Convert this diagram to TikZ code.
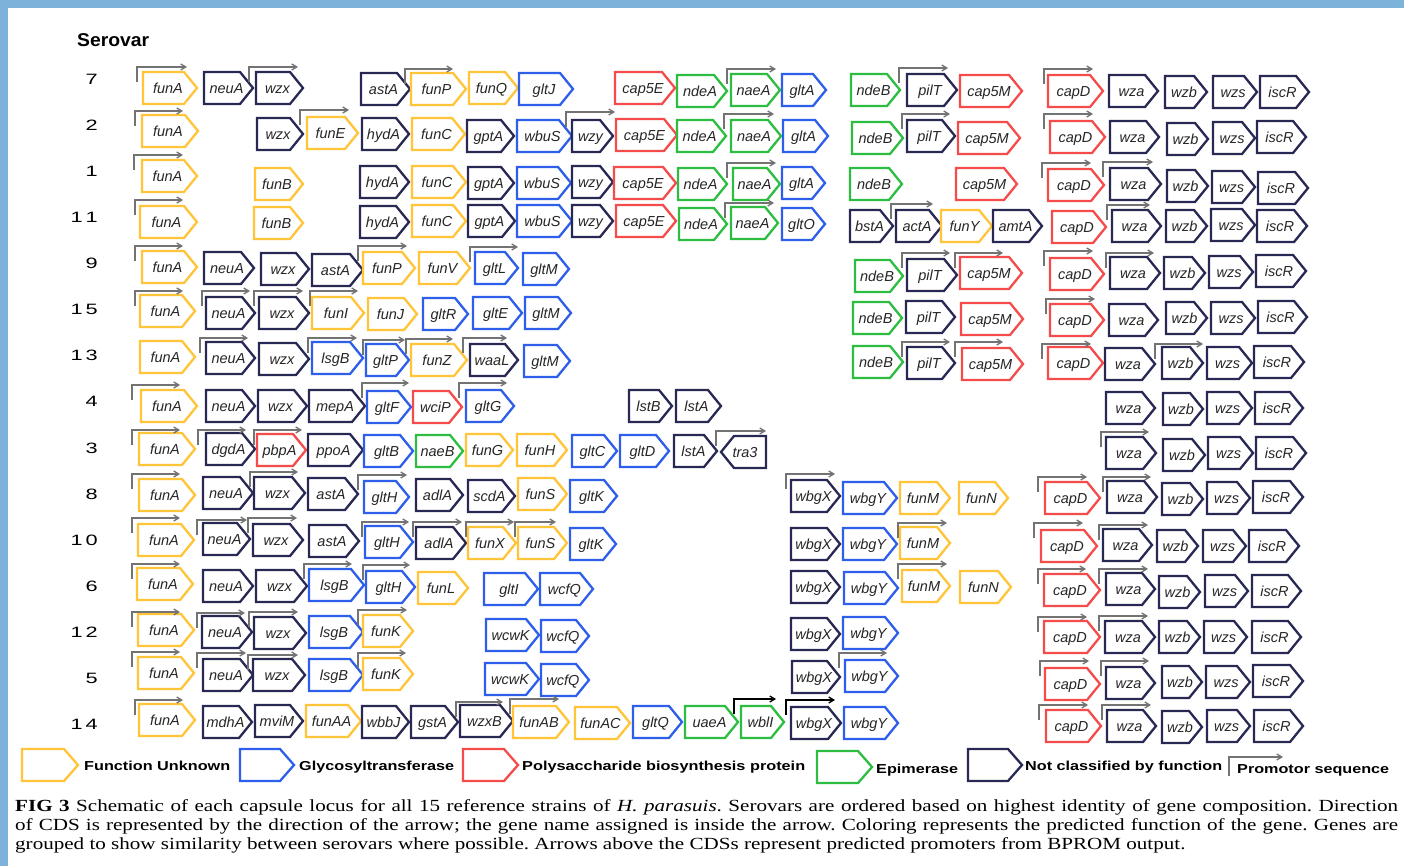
\documentclass[tikz,border=0pt]{standalone}
\usepackage{fontspec}
\setmainfont{Liberation Serif}[FakeStretch=1.24]
\setsansfont{Liberation Sans}
\usepackage{graphicx}
\usetikzlibrary{arrows.meta}
\definecolor{yel}{RGB}{255,196,56}
\definecolor{blu}{RGB}{45,95,235}
\definecolor{red}{RGB}{245,75,75}
\definecolor{grn}{RGB}{45,190,65}
\definecolor{nav}{RGB}{40,40,85}
\definecolor{promgray}{RGB}{115,115,115}
\definecolor{bord}{RGB}{125,178,218}
\newcounter{pc}
\def\currow{0}
% gene: #1 x-left, #2 x-tip, #3 y-center, #4 colour, #5 label
\newcommand\gn[5]{%
  \draw[gene, draw=#4] (#1,#3-16) -- (#2-13,#3-16) -- (#2,#3) -- (#2-13,#3+16) -- (#1,#3+16) -- cycle;
  \node[glabel] (n\currow-#5) at ({(#1+#2)/2-2},#3+5.5) {#5};}
% promoter: #2 x-start, #3 y-top, #4 x-end
\newcommand\prom[4][promgray]{%
  \stepcounter{pc}%
  \coordinate (ps\thepc) at (#2,#3+15);
  \coordinate (pe\thepc) at (#4,#3);
  \draw[promo, draw=#1] (ps\thepc) |- (pe\thepc);}
\newcommand\rn[3]{\node[rownum] (row#1) at (98,#2+5.5) {\scalebox{1.45}[1]{#3}};}
\begin{document}
\begin{tikzpicture}[x=1pt,y=-1pt,
  gene/.style={line width=2.3pt, fill=white, line join=miter},
  glabel/.style={font=\fontsize{14.5}{15}\selectfont\sffamily\itshape, text=black!85, inner sep=0pt, anchor=base},
  promo/.style={line width=1.3pt, -{Straight Barb[length=5pt,width=6pt]}},
  rownum/.style={font=\fontsize{15}{15}\selectfont\sffamily, anchor=base east, inner sep=0pt},
  legtext/.style={font=\fontsize{13}{13}\selectfont\sffamily\bfseries, anchor=base west, inner sep=0pt}]
\useasboundingbox (0,0) rectangle (1404,866);
\fill[white] (0,0) rectangle (1404,866);
\fill[bord] (0,0) rectangle (1404,8);
\fill[bord] (0,0) rectangle (8,866);

\node[font=\fontsize{18.5}{19}\selectfont\sffamily\bfseries, anchor=base west, inner sep=0pt] (title) at (77,46.5) {\resizebox{72pt}{\height}{Serovar}};

% row numbers
\rn{7}{79}{7}
\rn{2}{125}{2}
\rn{1}{171}{1}
\rn{11}{217}{1\hspace{2pt}1}
\rn{9}{263}{9}
\rn{15}{309}{1\hspace{2pt}5}
\rn{13}{355}{1\hspace{2pt}3}
\rn{4}{401}{4}
\rn{3}{448}{3}
\rn{8}{494}{8}
\rn{10}{540}{1\hspace{2pt}0}
\rn{6}{586}{6}
\rn{12}{632}{1\hspace{2pt}2}
\rn{5}{678}{5}
\rn{14}{724}{1\hspace{2pt}4}

% ---------- row 7
\def\currow{7}
\gn{143}{197}{88}{yel}{funA}
\gn{204}{253}{88}{nav}{neuA}
\gn{256}{303}{88}{nav}{wzx}
\gn{361}{410}{89}{nav}{astA}
\gn{411}{466}{89}{yel}{funP}
\gn{469}{518}{88}{yel}{funQ}
\gn{519}{573}{89}{blu}{gltJ}
\gn{615}{675}{88}{red}{cap5E}
\gn{677}{727}{91}{grn}{ndeA}
\gn{731}{780}{90}{grn}{naeA}
\gn{782}{826}{90}{blu}{gltA}
\gn{851}{900}{90}{grn}{ndeB}
\gn{907}{957}{90}{nav}{pilT}
\gn{960}{1022}{91}{red}{cap5M}
\gn{1048}{1103}{91}{red}{capD}
\gn{1109}{1158}{91}{nav}{wza}
\gn{1165}{1207}{92}{nav}{wzb}
\gn{1213}{1257}{92}{nav}{wzs}
\gn{1260}{1309}{92}{nav}{iscR}
\prom{137}{67}{187}
\prom{249}{67}{298}
\prom{405}{69}{453}
\prom{727}{69}{776}
\prom{899}{68}{948}
\prom{1044}{69}{1093}

% ---------- row 2
\def\currow{2}
\gn{142}{198}{131}{yel}{funA}
\gn{257}{303}{134}{nav}{wzx}
\gn{307}{358}{133}{yel}{funE}
\gn{362}{409}{134}{nav}{hydA}
\gn{412}{465}{134}{yel}{funC}
\gn{467}{514}{136}{nav}{gptA}
\gn{517}{572}{136}{blu}{wbuS}
\gn{572}{613}{136}{nav}{wzy}
\gn{616}{677}{135}{red}{cap5E}
\gn{677}{726}{136}{grn}{ndeA}
\gn{731}{781}{136}{grn}{naeA}
\gn{783}{828}{136}{blu}{gltA}
\gn{852}{903}{138}{grn}{ndeB}
\gn{907}{955}{136}{nav}{pilT}
\gn{958}{1020}{138}{red}{cap5M}
\gn{1050}{1105}{137}{red}{capD}
\gn{1110}{1159}{137}{nav}{wza}
\gn{1167}{1208}{139}{nav}{wzb}
\gn{1213}{1255}{138}{nav}{wzs}
\gn{1257}{1306}{137}{nav}{iscR}
\prom{135}{111}{183}
\prom{300}{110}{349}
\prom{566}{112}{615}
\prom{724}{114}{774}
\prom{902}{114}{950}
\prom{1044}{114}{1093}

% ---------- row 1
\def\currow{1}
\gn{142}{197}{176}{yel}{funA}
\gn{255}{303}{184}{yel}{funB}
\gn{360}{409}{182}{nav}{hydA}
\gn{412}{466}{182}{yel}{funC}
\gn{468}{514}{183}{nav}{gptA}
\gn{517}{571}{183}{blu}{wbuS}
\gn{572}{613}{182}{nav}{wzy}
\gn{614}{676}{183}{red}{cap5E}
\gn{678}{727}{184}{grn}{ndeA}
\gn{733}{780}{184}{grn}{naeA}
\gn{782}{825}{183}{blu}{gltA}
\gn{850}{902}{184}{grn}{ndeB}
\gn{956}{1017}{184}{red}{cap5M}
\gn{1048}{1104}{185}{red}{capD}
\gn{1110}{1161}{184}{nav}{wza}
\gn{1167}{1208}{186}{nav}{wzb}
\gn{1212}{1255}{187}{nav}{wzs}
\gn{1258}{1308}{188}{nav}{iscR}
\prom{134}{155}{183}
\prom{727}{163}{776}
\prom{1042}{163}{1091}
\prom{1103}{162}{1153}

% ---------- row 11
\def\currow{11}
\gn{140}{197}{222}{yel}{funA}
\gn{254}{303}{223}{yel}{funB}
\gn{360}{409}{222}{nav}{hydA}
\gn{412}{466}{221}{yel}{funC}
\gn{468}{515}{221}{nav}{gptA}
\gn{517}{572}{221}{blu}{wbuS}
\gn{572}{613}{221}{nav}{wzy}
\gn{616}{676}{221}{red}{cap5E}
\gn{679}{727}{224}{grn}{ndeA}
\gn{731}{778}{223}{grn}{naeA}
\gn{782}{825}{224}{blu}{gltO}
\gn{850}{893}{226}{nav}{bstA}
\gn{896}{942}{226}{nav}{actA}
\gn{941}{992}{226}{yel}{funY}
\gn{993}{1042}{226}{nav}{amtA}
\gn{1052}{1106}{227}{red}{capD}
\gn{1112}{1161}{226}{nav}{wza}
\gn{1166}{1207}{226}{nav}{wzb}
\gn{1211}{1255}{225}{nav}{wzs}
\gn{1257}{1307}{226}{nav}{iscR}
\prom{135}{200}{183}
\prom{725}{203}{774}
\prom{891}{204}{933}
\prom{1107}{205}{1150}

% ---------- row 9
\def\currow{9}
\gn{142}{197}{267}{yel}{funA}
\gn{204}{254}{268}{nav}{neuA}
\gn{261}{309}{269}{nav}{wzx}
\gn{312}{363}{270}{nav}{astA}
\gn{363}{415}{268}{yel}{funP}
\gn{419}{470}{268}{yel}{funV}
\gn{475}{518}{268}{blu}{gltL}
\gn{523}{569}{269}{blu}{gltM}
\gn{855}{903}{276}{grn}{ndeB}
\gn{907}{957}{275}{nav}{pilT}
\gn{960}{1022}{273}{red}{cap5M}
\gn{1050}{1104}{274}{red}{capD}
\gn{1110}{1160}{273}{nav}{wza}
\gn{1164}{1205}{273}{nav}{wzb}
\gn{1209}{1253}{272}{nav}{wzs}
\gn{1256}{1306}{271}{nav}{iscR}
\prom{135}{246}{183}
\prom{358}{246}{407}
\prom{470}{247}{518}
\prom{902}{253}{950}
\prom{955}{253}{1003}
\prom{1044}{251}{1093}
\prom{1106}{253}{1154}

% ---------- row 15
\def\currow{15}
\gn{140}{195}{311}{yel}{funA}
\gn{206}{255}{313}{nav}{neuA}
\gn{259}{309}{313}{nav}{wzx}
\gn{312}{364}{313}{yel}{funI}
\gn{368}{417}{314}{yel}{funJ}
\gn{423}{468}{314}{blu}{gltR}
\gn{473}{522}{313}{blu}{gltE}
\gn{525}{571}{313}{blu}{gltM}
\gn{853}{902}{318}{grn}{ndeB}
\gn{906}{955}{317}{nav}{pilT}
\gn{961}{1023}{319}{red}{cap5M}
\gn{1050}{1104}{320}{red}{capD}
\gn{1109}{1158}{320}{nav}{wza}
\gn{1166}{1207}{318}{nav}{wzb}
\gn{1211}{1255}{318}{nav}{wzs}
\gn{1258}{1307}{317}{nav}{iscR}
\prom{135}{291}{183}
\prom{202}{291}{250}
\prom{254}{291}{303}
\prom{310}{291}{358}
\prom{1046}{299}{1095}

% ---------- row 13
\def\currow{13}
\gn{140}{195}{357}{yel}{funA}
\gn{206}{255}{358}{nav}{neuA}
\gn{259}{309}{359}{nav}{wzx}
\gn{312}{363}{358}{blu}{lsgB}
\gn{366}{409}{360}{blu}{gltP}
\gn{411}{467}{360}{yel}{funZ}
\gn{470}{518}{360}{nav}{waaL}
\gn{524}{570}{361}{blu}{gltM}
\gn{853}{903}{362}{grn}{ndeB}
\gn{907}{955}{363}{nav}{pilT}
\gn{962}{1023}{364}{red}{cap5M}
\gn{1048}{1103}{363}{red}{capD}
\gn{1105}{1155}{364}{nav}{wza}
\gn{1162}{1203}{363}{nav}{wzb}
\gn{1207}{1252}{363}{nav}{wzs}
\gn{1254}{1304}{362}{nav}{iscR}
\prom{200}{338}{248}
\prom{308}{338}{357}
\prom{363}{340}{405}
\prom{406}{339}{453}
\prom{463}{338}{507}
\prom{902}{342}{950}
\prom{955}{342}{1003}
\prom{1042}{344}{1091}
\prom{1155}{344}{1203}

% ---------- row 4
\def\currow{4}
\gn{141}{197}{406}{yel}{funA}
\gn{206}{255}{406}{nav}{neuA}
\gn{258}{307}{406}{nav}{wzx}
\gn{309}{365}{406}{nav}{mepA}
\gn{367}{411}{407}{blu}{gltF}
\gn{413}{462}{407}{red}{wciP}
\gn{466}{514}{406}{blu}{gltG}
\gn{629}{672}{406}{nav}{lstB}
\gn{676}{721}{406}{nav}{lstA}
\gn{1106}{1155}{408}{nav}{wza}
\gn{1163}{1203}{409}{nav}{wzb}
\gn{1207}{1252}{408}{nav}{wzs}
\gn{1255}{1303}{408}{nav}{iscR}
\prom{132}{385}{180}
\prom{362}{383}{409}
\prom{459}{383}{507}

% ---------- row 3
\def\currow{3}
\gn{139}{195}{449}{yel}{funA}
\gn{206}{255}{449}{nav}{dgdA}
\gn{257}{306}{450}{red}{pbpA}
\gn{308}{363}{450}{nav}{ppoA}
\gn{364}{413}{451}{blu}{gltB}
\gn{416}{463}{451}{grn}{naeB}
\gn{466}{513}{450}{yel}{funG}
\gn{517}{567}{450}{yel}{funH}
\gn{572}{617}{451}{blu}{gltC}
\gn{620}{669}{451}{blu}{gltD}
\gn{674}{717}{451}{nav}{lstA}
\draw[gene, draw=nav] (766,436) -- (766,468) -- (734,468) -- (721,452) -- (734,436) -- cycle;
\node[glabel] (n3-tra3) at (745,457.5) {tra3};
\gn{1106}{1156}{453}{nav}{wza}
\gn{1163}{1205}{455}{nav}{wzb}
\gn{1208}{1253}{453}{nav}{wzs}
\gn{1256}{1306}{453}{nav}{iscR}
\prom{132}{430}{180}
\prom{198}{430}{246}
\prom{254}{430}{302}
\prom{716}{431}{766}
\prom{1101}{432}{1149}

% ---------- row 8
\def\currow{8}
\gn{139}{195}{495}{yel}{funA}
\gn{203}{253}{493}{nav}{neuA}
\gn{254}{305}{493}{nav}{wzx}
\gn{308}{358}{494}{nav}{astA}
\gn{364}{409}{497}{blu}{gltH}
\gn{416}{463}{495}{nav}{adlA}
\gn{468}{515}{496}{nav}{scdA}
\gn{518}{567}{494}{yel}{funS}
\gn{570}{617}{496}{blu}{gltK}
\gn{791}{840}{496}{nav}{wbgX}
\gn{843}{897}{498}{blu}{wbgY}
\gn{900}{950}{498}{yel}{funM}
\gn{959}{1008}{498}{yel}{funN}
\gn{1045}{1100}{498}{red}{capD}
\gn{1107}{1157}{497}{nav}{wza}
\gn{1162}{1203}{499}{nav}{wzb}
\gn{1207}{1250}{498}{nav}{wzs}
\gn{1253}{1303}{497}{nav}{iscR}
\prom{132}{474}{180}
\prom{250}{472}{298}
\prom{358}{475}{407}
\prom{786}{474}{835}
\prom{1038}{477}{1087}
\prom{1103}{477}{1151}

% ---------- row 10
\def\currow{10}
\gn{138}{194}{540}{yel}{funA}
\gn{203}{250}{539}{nav}{neuA}
\gn{253}{303}{540}{nav}{wzx}
\gn{309}{359}{541}{nav}{astA}
\gn{365}{413}{542}{blu}{gltH}
\gn{416}{466}{543}{nav}{adlA}
\gn{468}{516}{543}{yel}{funX}
\gn{518}{567}{543}{yel}{funS}
\gn{570}{616}{544}{blu}{gltK}
\gn{791}{840}{544}{nav}{wbgX}
\gn{843}{897}{544}{blu}{wbgY}
\gn{900}{950}{543}{yel}{funM}
\gn{1041}{1097}{546}{red}{capD}
\gn{1103}{1152}{545}{nav}{wza}
\gn{1157}{1198}{546}{nav}{wzb}
\gn{1203}{1246}{546}{nav}{wzs}
\gn{1249}{1299}{546}{nav}{iscR}
\prom{132}{518}{180}
\prom{197}{520}{247}
\prom{248}{518}{297}
\prom{362}{522}{409}
\prom{413}{522}{462}
\prom{466}{522}{514}
\prom{515}{522}{556}
\prom{898}{523}{947}
\prom{1034}{523}{1083}
\prom{1099}{525}{1148}

% ---------- row 6
\def\currow{6}
\gn{137}{193}{584}{yel}{funA}
\gn{203}{253}{586}{nav}{neuA}
\gn{256}{307}{586}{nav}{wzx}
\gn{309}{364}{585}{blu}{lsgB}
\gn{366}{415}{587}{blu}{gltH}
\gn{418}{468}{588}{yel}{funL}
\gn{484}{538}{589}{blu}{gltI}
\gn{540}{593}{589}{blu}{wcfQ}
\gn{791}{840}{587}{nav}{wbgX}
\gn{844}{898}{588}{blu}{wbgY}
\gn{902}{950}{586}{yel}{funM}
\gn{960}{1011}{587}{yel}{funN}
\gn{1044}{1100}{590}{red}{capD}
\gn{1106}{1155}{589}{nav}{wza}
\gn{1159}{1200}{592}{nav}{wzb}
\gn{1205}{1248}{591}{nav}{wzs}
\gn{1252}{1301}{591}{nav}{iscR}
\prom{132}{564}{180}
\prom{304}{564}{352}
\prom{363}{565}{410}
\prom{898}{564}{947}
\prom{1038}{569}{1086}
\prom{1099}{569}{1148}

% ---------- row 12
\def\currow{12}
\gn{138}{194}{630}{yel}{funA}
\gn{202}{252}{632}{nav}{neuA}
\gn{254}{306}{633}{nav}{wzx}
\gn{309}{363}{632}{blu}{lsgB}
\gn{363}{413}{631}{yel}{funK}
\gn{486}{539}{635}{blu}{wcwK}
\gn{541}{589}{636}{blu}{wcfQ}
\gn{791}{840}{634}{nav}{wbgX}
\gn{843}{898}{633}{blu}{wbgY}
\gn{1044}{1100}{637}{red}{capD}
\gn{1105}{1155}{637}{nav}{wza}
\gn{1159}{1200}{637}{nav}{wzb}
\gn{1204}{1247}{637}{nav}{wzs}
\gn{1252}{1301}{637}{nav}{iscR}
\prom{132}{612}{180}
\prom{197}{613}{245}
\prom{249}{612}{298}
\prom{358}{610}{407}
\prom{1038}{617}{1087}
\prom{1099}{616}{1148}

% ---------- row 5
\def\currow{5}
\gn{138}{194}{673}{yel}{funA}
\gn{203}{253}{675}{nav}{neuA}
\gn{253}{305}{675}{nav}{wzx}
\gn{309}{363}{675}{blu}{lsgB}
\gn{363}{413}{674}{yel}{funK}
\gn{485}{539}{679}{blu}{wcwK}
\gn{541}{589}{680}{blu}{wcfQ}
\gn{792}{840}{677}{nav}{wbgX}
\gn{845}{898}{676}{blu}{wbgY}
\gn{1045}{1100}{684}{red}{capD}
\gn{1106}{1155}{683}{nav}{wza}
\gn{1162}{1202}{682}{nav}{wzb}
\gn{1206}{1250}{682}{nav}{wzs}
\gn{1253}{1303}{681}{nav}{iscR}
\prom{132}{652}{180}
\prom{197}{653}{246}
\prom{248}{655}{298}
\prom{358}{653}{406}
\prom{839}{653}{887}
\prom{1040}{661}{1089}
\prom{1101}{661}{1149}

% ---------- row 14
\def\currow{14}
\gn{139}{195}{720}{yel}{funA}
\gn{203}{252}{722}{nav}{mdhA}
\gn{255}{303}{721}{nav}{mviM}
\gn{306}{361}{721}{yel}{funAA}
\gn{362}{409}{722}{nav}{wbbJ}
\gn{411}{458}{722}{nav}{gstA}
\gn{460}{513}{721}{nav}{wzxB}
\gn{513}{569}{722}{yel}{funAB}
\gn{575}{630}{723}{yel}{funAC}
\gn{633}{682}{722}{blu}{gltQ}
\gn{685}{738}{722}{grn}{uaeA}
\gn{741}{784}{722}{grn}{wblI}
\gn{791}{841}{723}{nav}{wbgX}
\gn{844}{898}{723}{blu}{wbgY}
\gn{1046}{1101}{726}{red}{capD}
\gn{1107}{1156}{726}{nav}{wza}
\gn{1162}{1202}{727}{nav}{wzb}
\gn{1207}{1250}{726}{nav}{wzs}
\gn{1254}{1303}{726}{nav}{iscR}
\prom{135}{700}{183}
\prom{456}{702}{503}
\prom{510}{699}{559}
\prom[black]{734}{699}{776}
\prom[black]{786}{700}{835}
\prom{1039}{705}{1088}
\prom{1102}{705}{1151}

% ---------- legend
\def\currow{L}
\draw[gene, draw=yel] (22,749) -- (64,749) -- (78,765) -- (64,781) -- (22,781) -- cycle;
\node[legtext] (lg1) at (84,770) {\resizebox{146pt}{\height}{Function Unknown}};
\draw[gene, draw=blu] (240,749) -- (280,749) -- (294,765) -- (280,781) -- (240,781) -- cycle;
\node[legtext] (lg2) at (299,770) {\resizebox{155pt}{\height}{Glycosyltransferase}};
\draw[gene, draw=red] (463,749) -- (504,749) -- (518,765) -- (504,781) -- (463,781) -- cycle;
\node[legtext] (lg3) at (522,770) {\resizebox{283pt}{\height}{Polysaccharide biosynthesis protein}};
\draw[gene, draw=grn] (817,751) -- (858,751) -- (872,767) -- (858,783) -- (817,783) -- cycle;
\node[legtext] (lg4) at (876,773) {\resizebox{82pt}{\height}{Epimerase}};
\draw[gene, draw=nav] (968,749) -- (1008,749) -- (1022,765) -- (1008,781) -- (968,781) -- cycle;
\node[legtext] (lg5) at (1025,770) {\resizebox{197pt}{\height}{Not classified by function}};
\coordinate (lgp1) at (1229,776);
\coordinate (lgp2) at (1283,757);
\draw[promo, draw=promgray] (lgp1) |- (lgp2);
\node[legtext] (lg6) at (1237,773) {\resizebox{152pt}{\height}{Promotor sequence}};

% ---------- caption
\node[anchor=base west, inner sep=0pt] (caption) at (15,811) {\parbox[t]{1383pt}{\fontsize{17}{19}\selectfont\frenchspacing
\textbf{FIG 3} Schematic of each capsule locus for all 15 reference strains of \textit{H. parasuis}. Serovars are ordered based on highest identity of gene composition. Direction\linebreak
of CDS is represented by the direction of the arrow; the gene name assigned is inside the arrow. Coloring represents the predicted function of the gene. Genes are\linebreak
grouped to show similarity between serovars where possible. Arrows above the CDSs represent predicted promoters from BPROM output.}};
\end{tikzpicture}
\end{document}
